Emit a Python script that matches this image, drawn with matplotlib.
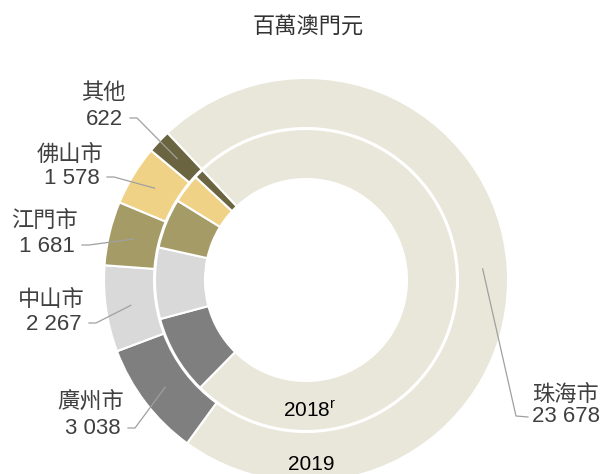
import matplotlib
matplotlib.use("Agg")
import matplotlib.pyplot as plt
import numpy as np

plt.rcParams['font.family'] = ['Liberation Sans', 'Noto Sans CJK TC', 'DejaVu Sans']

# data
cities = ["珠海市", "廣州市", "中山市", "江門市", "佛山市", "其他"]
v2019 = [23678, 3038, 2267, 1681, 1578, 622]
v2018 = [22320, 2540, 2290, 1600, 940, 310]   # 2018r
colors = ["#E9E7DA", "#7F7F7F", "#D9D9D9", "#A59B67", "#EFD286", "#6B6440"]

W, H = 604, 474
cx, cy = 306, 280   # donut centre (pixels from top-left)


def px(x, y):
    # pixel position -> data coords (centre of donut at 0,0)
    return x - cx, cy - y


fig = plt.figure(figsize=(W / 100, H / 100), dpi=100)
ax = fig.add_axes([0, 0, 1, 1])

outer, _ = ax.pie(v2019, radius=202, startangle=133.3, counterclock=False,
                  colors=colors,
                  wedgeprops=dict(width=50, edgecolor='white', linewidth=1.5))
inner, _ = ax.pie(v2018, radius=151, startangle=133.3, counterclock=False,
                  colors=colors,
                  wedgeprops=dict(width=50, edgecolor='white', linewidth=1.5))

ax.set_xlim(-cx, W - cx)
ax.set_ylim(cy - H, cy)
ax.set_aspect('equal')
ax.axis('off')

# labels: value right edge x, name centre y, value centre y (left side)
lab_pos = {
    "其他": (123, 93, 119),
    "佛山市": (100, 155, 178),
    "江門市": (75, 221, 246),
    "中山市": (82, 300, 324),
    "廣州市": (121, 402, 429),
}
txt_col = "#404040"
line_col = "#A0A0A0"

for w, name, val in zip(outer, cities, v2019):
    t = np.deg2rad((w.theta1 + w.theta2) / 2)
    mx, my = 177 * np.cos(t), 177 * np.sin(t)
    sval = f"{val:,}".replace(",", " ")
    if name == "珠海市":
        ax.text(*px(532, 395), name, ha='left', va='center', fontsize=16,
                color=txt_col, fontweight='light')
        ax.text(*px(532, 417), sval, ha='left', va='center', fontsize=16, color=txt_col)
        x0, y0 = px(528, 417)
        x1, y1 = px(516, 416)
        ax.plot([x0, x1, mx], [y0, y1, my], color=line_col, lw=0.9)
        continue
    xr, yn, yv = lab_pos[name]
    ax.text(*px(xr + 3, yn), name, ha='right', va='center', fontsize=16,
            color=txt_col, fontweight='light')
    ax.text(*px(xr, yv), sval, ha='right', va='center', fontsize=16, color=txt_col)
    x0, y0 = px(xr + 7, yv - 1)
    x1, y1 = px(xr + 14, yv - 1)
    ax.plot([x0, x1, mx], [y0, y1, my], color=line_col, lw=0.9)

ax.text(*px(308, 27), "百萬澳門元", ha='center', va='center', fontsize=16,
        color="#333333", fontweight='light')
ax.text(*px(310, 411), r"2018$^{\mathregular{r}}$", ha='center', va='center',
        fontsize=15, color="black")
ax.text(*px(311, 465), "2019", ha='center', va='center', fontsize=15, color="black")

fig.savefig("out.png", dpi=100)
